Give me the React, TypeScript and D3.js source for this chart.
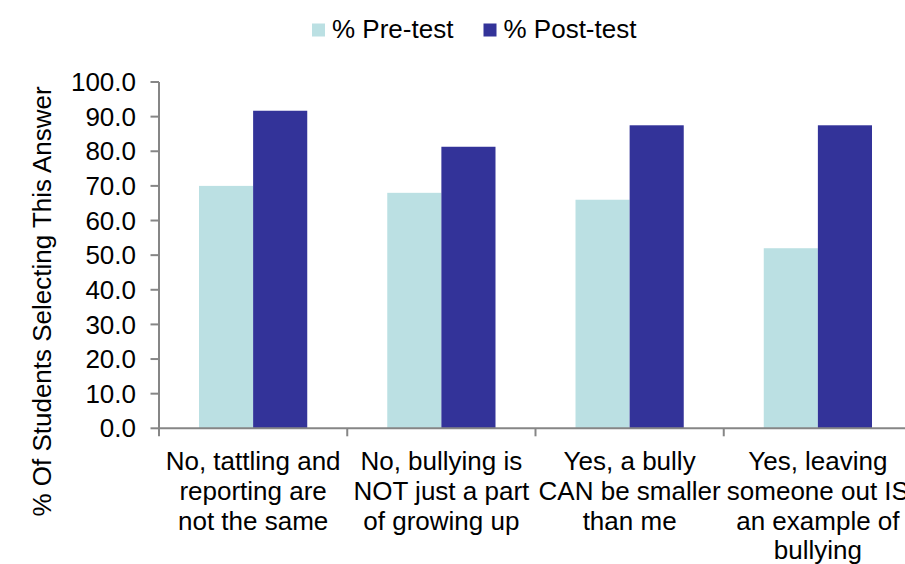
import React from "react";
import * as d3 from "d3";

const categories = [
  ["No, tattling and", "reporting are", "not the same"],
  ["No, bullying is", "NOT just a part", "of growing up"],
  ["Yes, a bully", "CAN be smaller", "than me"],
  ["Yes, leaving", "someone out IS", "an example of", "bullying"],
];
const seriesNames = ["% Pre-test", "% Post-test"];
const preTest = [70.0, 68.0, 66.0, 52.0];
const postTest = [91.7, 81.3, 87.5, 87.5];
const yTicks = [0, 10, 20, 30, 40, 50, 60, 70, 80, 90, 100];
const colors = ["#BBE0E3", "#333399"];

const W = 905;
const H = 564;
const FONT = "'Liberation Sans', Arial, sans-serif";

export default function App() {
  const left = 159;
  const right = 912;
  const top = 82;
  const bottom = 428.3;
  const keys = categories.map((_, i) => String(i));
  const x = d3.scaleBand<string>().domain(keys).range([left, right]).paddingInner(0.425).paddingOuter(0.2125);
  const xs = d3.scaleBand<string>().domain(["0", "1"]).range([0, x.bandwidth()]).padding(0);
  const y = d3.scaleLinear().domain([0, 100]).range([bottom, top]);
  const step = x.step();
  const series = [preTest, postTest];
  const fmt = d3.format(".1f");
  const axisColor = "#868686";

  return (
    <svg
      width={W}
      height={H}
      style={{ position: "absolute", left: 0, top: 0, background: "#fff" }}
      fontFamily={FONT}
    >
      {/* legend */}
      {seriesNames.map((name, i) => {
        const lx = i === 0 ? 312 : 483.5;
        return (
          <g key={name}>
            <rect x={lx} y={23.5} width={13} height={13} fill={colors[i]} />
            <text x={lx + 20} y={38} fontSize={26} fill="#000">
              {name}
            </text>
          </g>
        );
      })}

      {/* y axis title */}
      <text
        transform={`translate(51,${(83 + 520) / 2}) rotate(-90)`}
        textAnchor="middle"
        fontSize={26}
        fill="#000"
      >
        % Of Students Selecting This Answer
      </text>

      {/* bars */}
      {keys.map((k, ci) =>
        series.map((vals, si) => (
          <rect
            key={`${k}-${si}`}
            x={(x(k) as number) + (xs(String(si)) as number)}
            y={y(vals[ci])}
            width={xs.bandwidth()}
            height={y(0) - y(vals[ci])}
            fill={colors[si]}
          />
        ))
      )}

      {/* y axis */}
      <line x1={left} x2={left} y1={top} y2={bottom} stroke={axisColor} strokeWidth={2} />
      {yTicks.map((t) => (
        <g key={t}>
          <line x1={left - 8.5} x2={left} y1={y(t)} y2={y(t)} stroke={axisColor} strokeWidth={2} />
          <text x={136} y={y(t)} dy="0.35em" textAnchor="end" fontSize={26} fill="#000">
            {fmt(t)}
          </text>
        </g>
      ))}

      {/* x axis */}
      <line x1={left} x2={right} y1={bottom} y2={bottom} stroke={axisColor} strokeWidth={2} />
      {d3.range(categories.length + 1).map((i) => (
        <line
          key={i}
          x1={left + i * step}
          x2={left + i * step}
          y1={bottom}
          y2={bottom + 8}
          stroke={axisColor}
          strokeWidth={2}
        />
      ))}
      {categories.map((lines, ci) => (
        <text
          key={ci}
          x={(x(String(ci)) as number) + x.bandwidth() / 2}
          y={470}
          textAnchor="middle"
          fontSize={26}
          fill="#000"
        >
          {lines.map((ln, li) => (
            <tspan key={li} x={(x(String(ci)) as number) + x.bandwidth() / 2} dy={li === 0 ? 0 : 29.8}>
              {ln}
            </tspan>
          ))}
        </text>
      ))}
    </svg>
  );
}
